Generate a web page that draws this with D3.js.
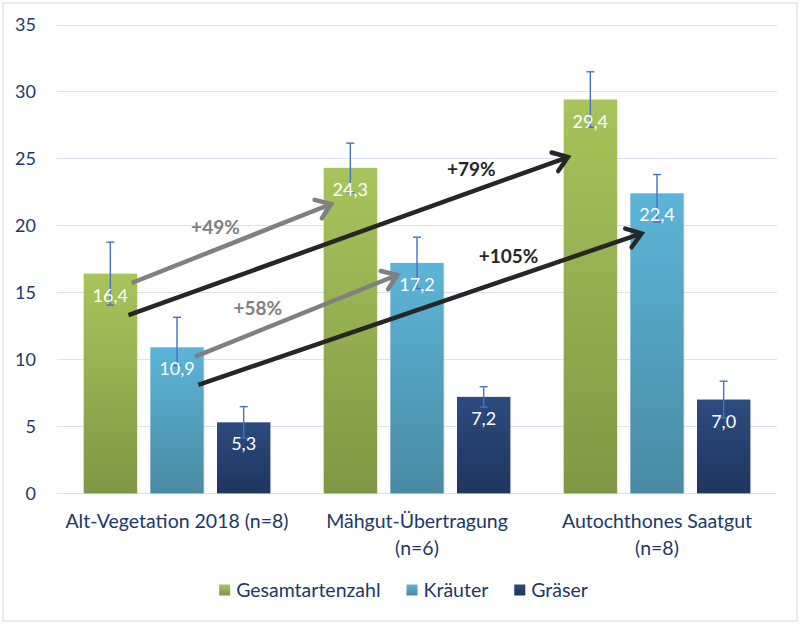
<!DOCTYPE html>
<html>
<head>
<meta charset="utf-8">
<script src="https://cdn.jsdelivr.net/npm/d3@7"></script>
<style>
  body { margin: 0; background: #fff; }
  text { font-family: Lato, "Open Sans", sans-serif; }
</style>
</head>
<body>
<div id="chart"></div>
<script>
// data
const categories = [["Alt-Vegetation 2018 (n=8)"], ["Mähgut-Übertragung", "(n=6)"], ["Autochthones Saatgut", "(n=8)"]];
const seriesNames = ["Gesamtartenzahl", "Kräuter", "Gräser"];
const gesamt = [16.4, 24.3, 29.4];
const kraeuter = [10.9, 17.2, 22.4];
const graeser = [5.3, 7.2, 7.0];
// error bars (+ / -)
const gesamtErrUp = [2.35, 1.84, 2.07], gesamtErrDown = [2.35, 1.84, 2.07];
const kraeuterErrUp = [2.24, 1.92, 1.4], kraeuterErrDown = [1.37, 1.92, 2.14];
const graeserErrUp = [1.17, 0.76, 1.37], graeserErrDown = [1.17, 0.76, 1.37];
const yTicks = [0, 5, 10, 15, 20, 25, 30, 35];
// arrows: from [group, series, value] to [group, series, value]
const arrowLabels = ["+49%", "+79%", "+58%", "+105%"];
const arrowFrom = [[0, 0, 15.7], [0, 0, 13.3], [0, 1, 10.2], [0, 1, 8.1]];
const arrowTo = [[1, 0, 21.6], [2, 0, 25.1], [1, 1, 16.3], [2, 1, 19.4]];
const arrowDark = [false, true, false, true];

const W = 800, H = 624;
const margin = {top: 24.5, left: 57, right: 23, bottom: 131};
const series = [
  {name: seriesNames[0], values: gesamt, up: gesamtErrUp, down: gesamtErrDown, c1: "#a7c55b", c2: "#7e9744"},
  {name: seriesNames[1], values: kraeuter, up: kraeuterErrUp, down: kraeuterErrDown, c1: "#5cb5d8", c2: "#4a8aa3"},
  {name: seriesNames[2], values: graeser, up: graeserErrUp, down: graeserErrDown, c1: "#2c4b7f", c2: "#1e355e"}
];
const fmt = d3.formatLocale({decimal: ",", thousands: ".", grouping: [3], currency: ["", "€"]}).format(".1f");

const svg = d3.select("#chart").append("svg")
  .attr("width", W).attr("height", H);

svg.append("rect")
  .attr("x", 3).attr("y", 3).attr("width", W - 6).attr("height", H - 6)
  .attr("fill", "#fff").attr("stroke", "#d9e2ef").attr("stroke-width", 1.3);

const defs = svg.append("defs");
series.forEach((s, i) => {
  const g = defs.append("linearGradient").attr("id", "grad" + i)
    .attr("x1", 0).attr("y1", 0).attr("x2", 0).attr("y2", 1);
  g.append("stop").attr("offset", "0%").attr("stop-color", s.c1);
  g.append("stop").attr("offset", "100%").attr("stop-color", s.c2);
});

const x0 = d3.scaleBand().domain(d3.range(categories.length))
  .range([margin.left, W - margin.right]).paddingInner(0.2222).paddingOuter(0.1111);
const x1 = d3.scaleBand().domain(d3.range(series.length))
  .range([0, x0.bandwidth()]).paddingInner(0.2);
const y = d3.scaleLinear().domain([0, 35]).range([H - margin.bottom + 0.3, margin.top]);

// grid
svg.append("g")
  .selectAll("line").data(yTicks).join("line")
  .attr("x1", margin.left).attr("x2", W - margin.right)
  .attr("y1", d => Math.round(y(d)) + 0.5).attr("y2", d => Math.round(y(d)) + 0.5)
  .attr("stroke", "#d7e2f2").attr("stroke-width", 1.2);

// y axis labels
const yAxis = svg.append("g")
  .attr("transform", "translate(" + (margin.left - 21) + ",0)")
  .call(d3.axisLeft(y).tickValues(yTicks).tickSize(0).tickPadding(0));
yAxis.select(".domain").remove();
yAxis.selectAll("text")
  .attr("fill", "#203864").style("font-size", "18px").attr("dy", "0.36em");

// bars
const groups = svg.append("g").selectAll("g").data(categories).join("g")
  .attr("transform", (d, i) => "translate(" + x0(i) + ",0)");

groups.each(function(cat, gi) {
  const g = d3.select(this);
  series.forEach((s, si) => {
    const v = s.values[gi];
    const bx = x1(si), bw = x1.bandwidth();
    g.append("rect")
      .attr("x", bx + 1).attr("y", y(v) + 1).attr("width", bw).attr("height", y(0) - y(v))
      .attr("fill", "#000").attr("opacity", 0.08);
    g.append("rect")
      .attr("x", bx).attr("y", y(v)).attr("width", bw).attr("height", y(0) - y(v))
      .attr("fill", "url(#grad" + si + ")");
    const cx = bx + bw / 2;
    const e = g.append("g").attr("stroke", "#4472c4").attr("stroke-width", 1.4);
    e.append("line").attr("x1", cx).attr("x2", cx)
      .attr("y1", y(v + s.up[gi])).attr("y2", y(v - s.down[gi]));
    [v + s.up[gi], v - s.down[gi]].forEach(ev => {
      e.append("line").attr("x1", cx - 4).attr("x2", cx + 4)
        .attr("y1", y(ev)).attr("y2", y(ev));
    });
    g.append("text")
      .attr("x", cx).attr("y", y(v) + 28)
      .attr("text-anchor", "middle").attr("fill", "#fff")
      .style("font-size", "18px")
      .text(fmt(v));
  });
});

// category labels
const catLab = svg.append("g").selectAll("text").data(categories).join("text")
  .attr("x", (d, i) => x0(i) + x0.bandwidth() / 2)
  .attr("y", 528)
  .attr("text-anchor", "middle").attr("fill", "#203864")
  .style("font-size", "19.5px");
catLab.selectAll("tspan").data(d => d).join("tspan")
  .attr("x", function() { return this.parentNode.getAttribute("x"); })
  .attr("dy", (d, i) => i === 0 ? 0 : 26.5)
  .text(d => d);

// arrows
const arrowFracFrom = [0.9, 0.84, 0.84, 0.9];
const arrowFracTo = [0.14, 0.08, 0.13, 0.21];
const arrowLabelT = [0.42, 0.78, 0.31, 0.70];
const arr = svg.append("g");
arrowLabels.forEach((lab, i) => {
  const a = arrowFrom[i], b = arrowTo[i];
  const xa = x0(a[0]) + x1(a[1]) + arrowFracFrom[i] * x1.bandwidth(), ya = y(a[2]);
  const xb = x0(b[0]) + x1(b[1]) + arrowFracTo[i] * x1.bandwidth(), yb = y(b[2]);
  const col = arrowDark[i] ? "#262626" : "#808080";
  const ang = Math.atan2(yb - ya, xb - xa);
  const L = 17, sp = 0.62;
  const w1 = [xb - L * Math.cos(ang - sp), yb - L * Math.sin(ang - sp)];
  const w2 = [xb - L * Math.cos(ang + sp), yb - L * Math.sin(ang + sp)];
  arr.append("path")
    .attr("d", "M" + xa + "," + ya + "L" + (xb - 2 * Math.cos(ang)) + "," + (yb - 2 * Math.sin(ang)))
    .attr("stroke", col).attr("stroke-width", 4.5).attr("fill", "none");
  arr.append("path")
    .attr("d", "M" + w1 + "L" + xb + "," + yb + "L" + w2)
    .attr("stroke", col).attr("stroke-width", 4.5).attr("fill", "none")
    .attr("stroke-linejoin", "miter").attr("stroke-linecap", "round");
  const t = arrowLabelT[i];
  arr.append("text")
    .attr("x", xa + t * (xb - xa))
    .attr("y", ya + t * (yb - ya) - 16)
    .attr("text-anchor", "middle").attr("fill", col)
    .style("font-size", "19px").style("font-weight", "bold")
    .text(lab);
});

// legend
const leg = svg.append("g");
let lx = 0;
series.forEach((s, i) => {
  const it = leg.append("g");
  it.append("rect").attr("x", 0).attr("y", -5.5).attr("width", 11).attr("height", 11)
    .attr("fill", "url(#grad" + i + ")");
  const tx = it.append("text").attr("x", 17).attr("y", 0).attr("dy", "0.35em")
    .attr("fill", "#203864").style("font-size", "19.5px").text(s.name);
  const w = 17 + tx.node().getComputedTextLength();
  it.attr("transform", "translate(" + lx + ",0)");
  lx += w + 26;
});
lx -= 26;
leg.attr("transform", "translate(" + (403.5 - lx / 2) + ",590)");
</script>
</body>
</html>
